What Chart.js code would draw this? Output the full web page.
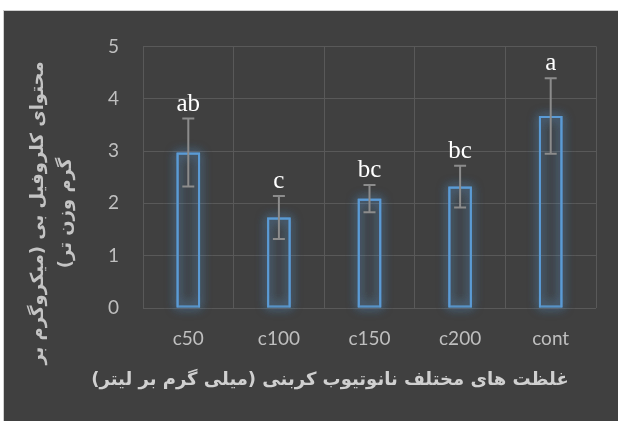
<!DOCTYPE html>
<html lang="fa">
<head>
    <meta charset="UTF-8">
    <title>Chlorophyll b content</title>
    <script src="https://cdn.jsdelivr.net/npm/chart.js"></script>
    <style>
        body {
            margin: 0;
            padding: 0;
            background-color: #fff;
        }
        .panel {
            position: absolute;
            left: 3px;
            top: 10px;
            width: 614px;
            height: 410px;
            border-left: 1px solid #cfcfcf;
            border-top: 1px solid #cfcfcf;
            background-color: #404040;
        }
    </style>
</head>
<body>

<div class="panel">
    <canvas id="chlChart" width="614" height="410"></canvas>
</div>

<script>
    const categories = ['c50', 'c100', 'c150', 'c200', 'cont'];
    const means = [2.97, 1.73, 2.09, 2.32, 3.67];
    const errors = [0.65, 0.41, 0.26, 0.40, 0.72];
    const letters = ['ab', 'c', 'bc', 'bc', 'a'];
    const yMin = 0;
    const yMax = 5;
    const yStep = 1;
    const yTitleLines = ['محتوای کلروفیل بی (میکروگرم بر', 'گرم وزن تر)'];
    const xTitle = 'غلظت های مختلف نانوتیوب کربنی (میلی گرم بر لیتر)';

    // soft blue halo round each bar, drawn before the bars themselves
    const glowPlugin = {
        id: 'glow',
        beforeDatasetsDraw(chart) {
            const ctx = chart.ctx;
            const meta = chart.getDatasetMeta(0);
            ctx.save();
            ctx.shadowColor = 'rgba(91,155,213,1)';
            ctx.shadowBlur = 11;
            ctx.strokeStyle = 'rgba(91,155,213,0.5)';
            ctx.lineWidth = 2;
            for (let k = 0; k < 3; k++) {
                meta.data.forEach(bar => {
                    const p = bar.getProps(['x', 'y', 'base', 'width'], true);
                    ctx.strokeRect(p.x - p.width / 2 + 1, p.y + 1, p.width - 2, p.base - p.y - 2);
                });
            }
            ctx.restore();
        }
    };

    const errorPlugin = {
        id: 'errorBars',
        afterDatasetsDraw(chart) {
            const ctx = chart.ctx;
            const yScale = chart.scales.y;
            const meta = chart.getDatasetMeta(0);
            ctx.save();
            ctx.strokeStyle = '#8c8c8c';
            ctx.lineWidth = 2;
            meta.data.forEach((bar, i) => {
                const x = bar.x;
                const top = yScale.getPixelForValue(means[i] + errors[i]);
                const bottom = yScale.getPixelForValue(means[i] - errors[i]);
                ctx.beginPath();
                ctx.moveTo(x, top);
                ctx.lineTo(x, bottom);
                ctx.moveTo(x - 6, top);
                ctx.lineTo(x + 6, top);
                ctx.moveTo(x - 6, bottom);
                ctx.lineTo(x + 6, bottom);
                ctx.stroke();

                ctx.fillStyle = '#ffffff';
                ctx.font = '25px "Liberation Serif", serif';
                ctx.textAlign = 'center';
                ctx.textBaseline = 'bottom';
                ctx.fillText(letters[i], x, top - 2);
            });
            ctx.restore();
        }
    };

    const titlePlugin = {
        id: 'persianTitles',
        afterDraw(chart) {
            const ctx = chart.ctx;
            ctx.save();
            ctx.direction = 'rtl';
            ctx.textAlign = 'center';
            ctx.textBaseline = 'middle';
            ctx.fillStyle = '#d0d0d0';
            ctx.font = 'bold 18px "DejaVu Sans", sans-serif';
            ctx.fillText(xTitle, 326, 369);

            ctx.translate(47, 202);
            ctx.rotate(-Math.PI / 2);
            ctx.fillStyle = '#c4c4c4';
            yTitleLines.forEach((line, i) => {
                ctx.fillText(line, 0, -13 + i * 28);
            });
            ctx.restore();
        }
    };

    const ctx = document.getElementById('chlChart').getContext('2d');
    new Chart(ctx, {
        type: 'bar',
        data: {
            labels: categories,
            datasets: [{
                data: means,
                backgroundColor: 'rgba(91,155,213,0.04)',
                borderColor: '#5b9bd5',
                borderWidth: 2,
                categoryPercentage: 1,
                barPercentage: 0.26
            }]
        },
        options: {
            responsive: false,
            animation: false,
            layout: {
                padding: { top: 28, right: 22, bottom: 0, left: 0 }
            },
            plugins: {
                legend: { display: false },
                tooltip: { enabled: false }
            },
            scales: {
                x: {
                    grid: { color: '#595959', lineWidth: 1, drawTicks: false, offset: true },
                    border: { display: false },
                    ticks: {
                        color: '#bfbfbf',
                        font: { family: 'Lato', size: 19 },
                        padding: 19
                    },
                    afterFit(scale) { scale.height = 113; }
                },
                y: {
                    min: yMin,
                    max: yMax,
                    grid: { color: '#595959', lineWidth: 1, drawTicks: false },
                    border: { display: false },
                    ticks: {
                        stepSize: yStep,
                        color: '#bfbfbf',
                        font: { family: 'Lato', size: 19 },
                        padding: 24
                    },
                    afterFit(scale) { scale.width = 139; }
                }
            }
        },
        plugins: [glowPlugin, errorPlugin, titlePlugin]
    });
</script>

</body>
</html>
